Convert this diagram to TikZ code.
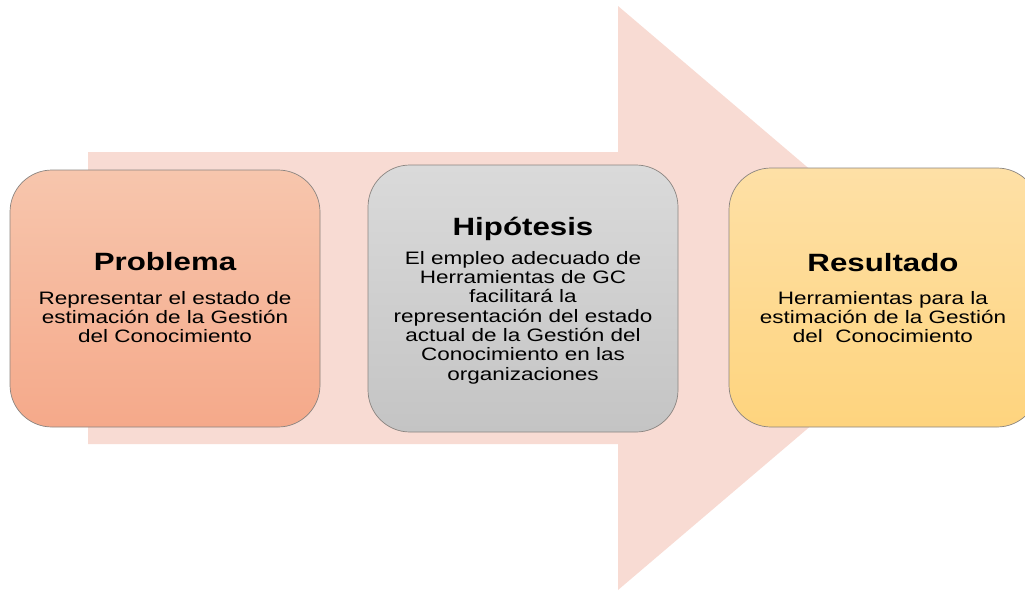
\documentclass[tikz,border=0pt]{standalone}
\usepackage{fontspec}
\setmainfont{Liberation Sans}
\newfontfamily\widesans[FakeStretch=1.25]{Liberation Sans}
\definecolor{arrowfill}{HTML}{F8DBD3}
\definecolor{probtop}{HTML}{F7C6AD}
\definecolor{probbot}{HTML}{F5A98A}
\definecolor{hiptop}{HTML}{DADADA}
\definecolor{hipbot}{HTML}{C4C4C4}
\definecolor{restop}{HTML}{FEE0A6}
\definecolor{resbot}{HTML}{FED47E}
\definecolor{edge}{HTML}{8A8480}
\tikzset{
  stagebox/.style={draw=edge, line width=0.7pt, rounded corners=42pt, minimum width=310pt, inner sep=0pt},
  stagetitle/.style={font=\widesans\fontsize{25}{30}\selectfont\bfseries, inner sep=0pt, anchor=base},
  stagebody/.style={font=\widesans\fontsize{18}{19.3}\selectfont, align=center, inner sep=0pt, anchor=north},
}
\begin{document}
\begin{tikzpicture}[x=1pt,y=-1pt]
\useasboundingbox (0,0) rectangle (1025,590);
\fill[arrowfill] (88,152) -- (618,152) -- (618,6) -- (961,298) -- (618,590) -- (618,444) -- (88,444) -- cycle;
\node[stagebox, top color=probtop, bottom color=probbot, minimum height=257pt] (prob) at (165,298.5) {};
\node[stagebox, top color=hiptop, bottom color=hipbot, minimum height=267pt] (hip) at (523,298.5) {};
\node[stagebox, top color=restop, bottom color=resbot, minimum height=259pt] (res) at (884,297.5) {};
\node[stagetitle] (probt) at (165,270.7) {Problema};
\node[stagebody] (probb) at (165,291.1) {Representar el estado de\\estimación de la Gestión\\del Conocimiento};
\node[stagetitle] (hipt) at (523,235) {Hipótesis};
\node[stagebody] (hipb) at (523,251.1) {El empleo adecuado de\\Herramientas de GC\\facilitará la\\representación del estado\\actual de la Gestión del\\Conocimiento en las\\organizaciones};
\node[stagetitle] (rest) at (883,271) {Resultado};
\node[stagebody] (resb) at (883,291.1) {Herramientas para la\\estimación de la Gestión\\del\ \ Conocimiento};
\end{tikzpicture}
\end{document}
